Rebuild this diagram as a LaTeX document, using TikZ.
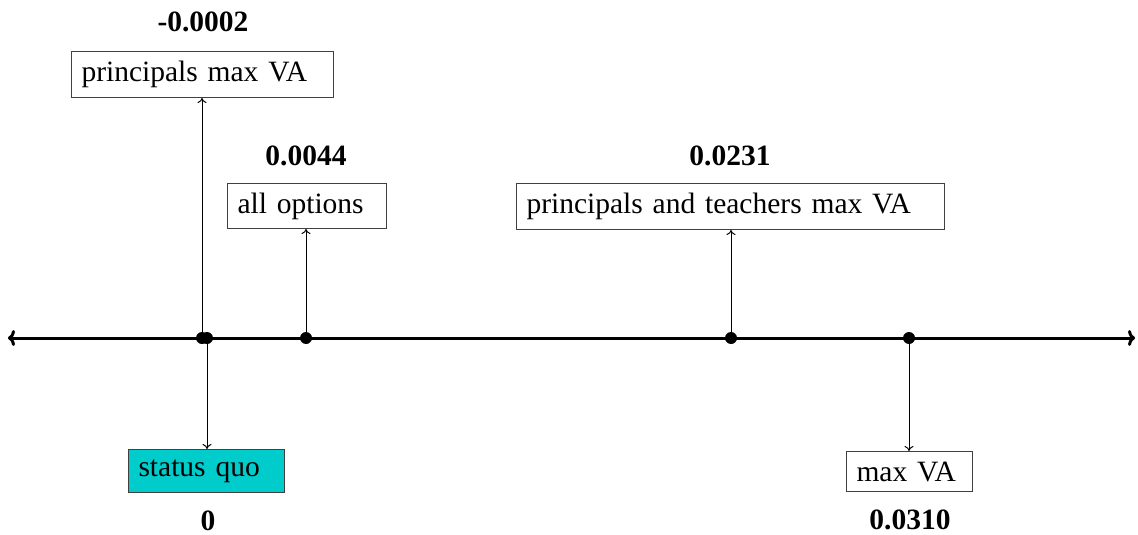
\documentclass[tikz,border=0pt]{standalone}
\usepackage{fontspec}
\setmainfont{Liberation Serif}
\usetikzlibrary{arrows.meta}
\definecolor{sqcyan}{RGB}{0,204,204}
\begin{document}
\begin{tikzpicture}[x=1pt,y=-1pt,
  font=\fontsize{29.5}{34}\selectfont,
  optbox/.style={draw=black!75, line width=1pt, anchor=north west, inner xsep=10pt, inner ysep=0pt, align=left},
  vallabel/.style={font=\fontsize{29.5}{34}\selectfont\bfseries, inner sep=0pt},
  dot/.style={circle, fill=black, inner sep=0pt, minimum size=12pt},
  conn/.style={line width=1pt, -{To[length=5pt,width=9pt]}},
  axis/.style={line width=3pt, {To[length=7pt,width=16pt]}-{To[length=7pt,width=16pt]}}]
\useasboundingbox (0,0) rectangle (1138,535);
% axis
\coordinate (L) at (8,338);
\coordinate (R) at (1135,338);
\draw[axis] (L) -- (R);
% dots
\node[dot] (d1) at (202,338) {};
\node[dot] (d0) at (207,338) {};
\node[dot] (d2) at (306,338) {};
\node[dot] (d3) at (731,338) {};
\node[dot] (d4) at (909,338) {};
% boxes
\node[optbox, text width=242pt, minimum height=46pt] (b1) at (71,51) {principals max VA};
\node[optbox, text width=139pt, minimum height=45pt] (b2) at (227,183) {all options};
\node[optbox, text width=408pt, minimum height=46pt] (b3) at (516,183) {principals and teachers max VA};
\node[optbox, fill=sqcyan, text width=136pt, minimum height=43pt] (b4) at (128,449) {status quo};
\node[optbox, text width=106pt, minimum height=40pt] (b5) at (846,451) {max VA};
% value labels
\node[vallabel] (v1) at (203,22) {-0.0002};
\node[vallabel] (v2) at (306,156) {0.0044};
\node[vallabel] (v3) at (730,156) {0.0231};
\node[vallabel] (v0) at (208,521) {0};
\node[vallabel] (v4) at (910,520) {0.0310};
% connectors
\draw[conn] (d1.center) -- (d1 |- b1.south);
\draw[conn] (d2.center) -- (d2 |- b2.south);
\draw[conn] (d3.center) -- (d3 |- b3.south);
\draw[conn] (d0.center) -- (d0 |- b4.north);
\draw[conn] (d4.center) -- (d4 |- b5.north);
\end{tikzpicture}
\end{document}
